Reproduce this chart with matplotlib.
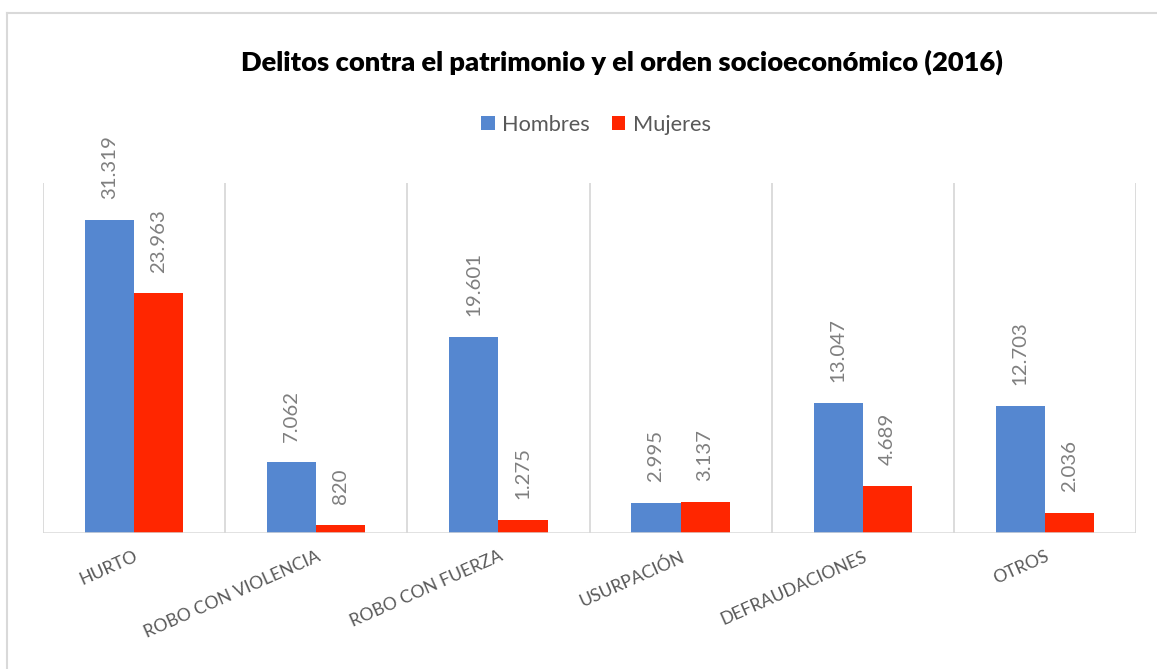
import matplotlib.pyplot as plt
import numpy as np
from matplotlib.patches import Patch
from matplotlib.lines import Line2D

# ---- data ----
CATEGORIES = ["HURTO", "ROBO CON VIOLENCIA", "ROBO CON FUERZA",
              "USURPACIÓN", "DEFRAUDACIONES", "OTROS"]
HOMBRES = [31319, 7062, 19601, 2995, 13047, 12703]
MUJERES = [23963, 820, 1275, 3137, 4689, 2036]
SERIES = ["Hombres", "Mujeres"]

BLUE = "#5587D0"
RED = "#FF2600"
GRID = "#D9D9D9"
LABEL_GRAY = "#7F7F7F"
TEXT_GRAY = "#595959"

plt.rcParams["font.family"] = ["Lato", "DejaVu Sans"]

W, H = 1157, 669
fig = plt.figure(figsize=(W / 100, H / 100), dpi=100)

# chart frame (only top and left edges visible in the crop)
fig.add_artist(Line2D([7 / W, 7 / W], [0, 1 - 13 / H], transform=fig.transFigure,
                      color=GRID, lw=1.5))
fig.add_artist(Line2D([7 / W, 1], [1 - 13 / H, 1 - 13 / H], transform=fig.transFigure,
                      color=GRID, lw=1.5))

left, right, top, bottom = 43, 1136, 183, 533
ax = fig.add_axes([left / W, 1 - bottom / H, (right - left) / W, (bottom - top) / H])

x = np.arange(len(CATEGORIES))
bw = 0.27
b1 = ax.bar(x - bw / 2, HOMBRES, bw, color=BLUE, zorder=3)
b2 = ax.bar(x + bw / 2, MUJERES, bw, color=RED, zorder=3)

ax.set_xlim(-0.5, len(CATEGORIES) - 0.5)
ax.set_ylim(0, 35000)

for xv in np.arange(-0.5, len(CATEGORIES), 1.0):
    ax.axvline(xv, color=GRID, lw=1.3, zorder=1)
ax.axhline(0, color=GRID, lw=1.8, zorder=4)

for s in ax.spines.values():
    s.set_visible(False)
ax.set_yticks([])
ax.set_xticks(x)
ax.set_xticklabels(CATEGORIES, rotation=24, ha="right", rotation_mode="anchor",
                   fontsize=12.6, color=TEXT_GRAY)
ax.tick_params(axis="x", length=0, pad=11)

def fmt(v):
    return "{:,}".format(v).replace(",", ".")

for bars, vals in ((b1, HOMBRES), (b2, MUJERES)):
    for rect, v in zip(bars, vals):
        ax.annotate(fmt(v), (rect.get_x() + rect.get_width() / 2, v),
                    xytext=(0, 15), textcoords="offset points",
                    rotation=90, ha="center", va="bottom",
                    fontsize=14.7, color=LABEL_GRAY)

fig.text(622 / W, 1 - 62 / H, "Delitos contra el patrimonio y el orden socioeconómico (2016)",
         ha="center", va="center", fontsize=19.6, fontweight="heavy", color="black")

handles = [Patch(facecolor=BLUE, label=SERIES[0]), Patch(facecolor=RED, label=SERIES[1])]
fig.legend(handles=handles, loc="center", bbox_to_anchor=(596 / W, 1 - 125 / H),
           ncol=2, frameon=False, fontsize=15.7, handlelength=0.62, handleheight=0.62,
           handletextpad=0.35, columnspacing=1.0, labelcolor=TEXT_GRAY)

fig.savefig("out.png", dpi=100)
